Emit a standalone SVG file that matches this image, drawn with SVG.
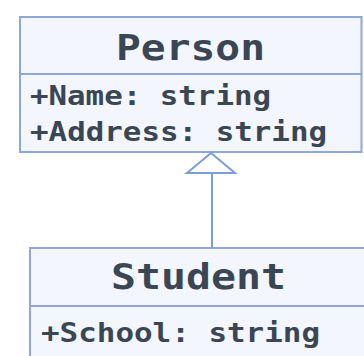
<svg xmlns="http://www.w3.org/2000/svg" width="364" height="356" viewBox="0 0 364 356">
<style>
.box{fill:#f3f6fc;stroke:#8fa6d9;stroke-width:2}
.sep{stroke:#8fa6d9;stroke-width:2}
.title{font-family:"DejaVu Sans Mono","Liberation Mono",monospace;font-weight:bold;font-size:36px;fill:#3b4654}
.attr{font-family:"DejaVu Sans Mono","Liberation Mono",monospace;font-weight:bold;font-size:26px;fill:#3b4654}
.conn{stroke:#7b9fd4;stroke-width:2;fill:none}
.tri{fill:#ffffff;stroke:#7b9fd4;stroke-width:2}
</style>
<rect width="364" height="356" fill="#ffffff"/>
<g id="person">
<rect class="box" x="20" y="17" width="341.5" height="135"/>
<line class="sep" x1="20" y1="74" x2="361.5" y2="74"/>
<text class="title" x="116" y="60" textLength="149" lengthAdjust="spacingAndGlyphs">Person</text>
<text class="attr" x="30" y="105" textLength="241" lengthAdjust="spacingAndGlyphs">+Name: string</text>
<text class="attr" x="30" y="141" textLength="297" lengthAdjust="spacingAndGlyphs">+Address: string</text>
</g>
<g id="student">
<rect class="box" x="30" y="248" width="350" height="120"/>
<line class="sep" x1="30" y1="306" x2="380" y2="306"/>
<text class="title" x="111" y="289" textLength="175" lengthAdjust="spacingAndGlyphs">Student</text>
<text class="attr" x="41" y="342" textLength="279" lengthAdjust="spacingAndGlyphs">+School: string</text>
</g>
<g id="connectors">
<line class="conn" x1="212" y1="173" x2="212" y2="248"/>
<polygon class="tri" points="211,153 235,173 187,173"/>
</g>
</svg>
